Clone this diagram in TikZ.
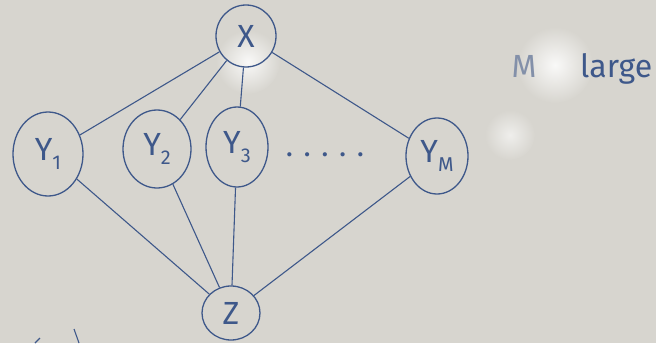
\documentclass[tikz,border=0pt]{standalone}
\usepackage{fontspec}
\setmainfont{Fira Sans}
\usetikzlibrary{shapes.geometric}
\newcommand{\mysub}[1]{\raisebox{-9pt}{\fontsize{20}{20}\selectfont #1}}
\begin{document}
\begin{tikzpicture}[x=1pt,y=-1pt,
  ink/.style={draw=inkc, line width=1.3pt},
  var/.style={ink, ellipse, inner sep=0pt, text=inkc, font=\fontsize{32}{32}\selectfont},
  edge/.style={draw=inkc, line width=1.1pt}]
\definecolor{inkc}{RGB}{62,88,138}
\definecolor{boardc}{RGB}{215,213,207}
\fill[boardc] (0,0) rectangle (656,343);
\useasboundingbox (0,0) rectangle (656,343);
\shade[inner color=white!85!boardc, outer color=boardc] (248,62) circle (32);
\shade[inner color=white!85!boardc, outer color=boardc] (555,65) circle (38);
\shade[inner color=white!60!boardc, outer color=boardc] (510,135) circle (25);
\node[var, minimum width=60, minimum height=62] (x) at (246,36) {X};
\node[var, minimum width=70, minimum height=84] (y1) at (48,154) {Y\mysub{1}};
\node[var, minimum width=68, minimum height=78] (y2) at (157,149) {Y\mysub{2}};
\node[var, minimum width=62, minimum height=80] (y3) at (237,147) {Y\mysub{3}};
\node[var, minimum width=62, minimum height=76] (ym) at (437,156) {Y\mysub{M}};
\node[var, minimum width=58, minimum height=54] (z) at (231,313) {Z};
\node[text=inkc, font=\fontsize{30}{30}\selectfont] (dots) at (325,155) {. . . . .};
\node[text=inkc!55!boardc, anchor=base west, font=\fontsize{32}{32}\selectfont] (m) at (508,77) {M};
\node[text=inkc, anchor=base west, inner sep=0pt, font=\fontsize{32}{32}\selectfont] (large) at (580,77) {large};
\draw[edge] (x) -- (y1);
\draw[edge] (x) -- (y2);
\draw[edge] (x) -- (y3);
\draw[edge] (x) -- (ym);
\draw[edge] (y1) -- (z);
\draw[edge] (y2) -- (z);
\draw[edge] (y3) -- (z);
\draw[edge] (ym) -- (z);
\coordinate (s1a) at (35,343);
\coordinate (s1b) at (40,338);
\coordinate (s2a) at (74,329);
\coordinate (s2b) at (79,343);
\draw[edge] (s1a) -- (s1b);
\draw[edge] (s2a) -- (s2b);
\end{tikzpicture}
\end{document}
